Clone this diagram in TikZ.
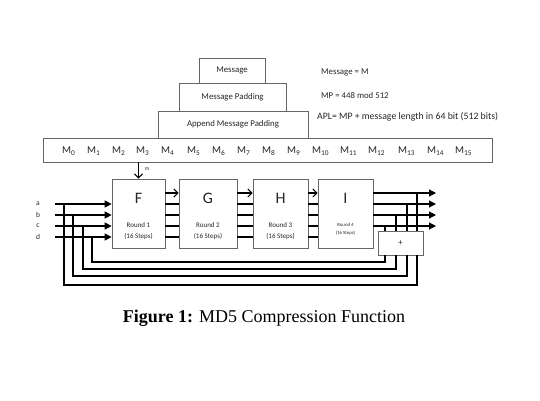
\documentclass[tikz,border=0pt]{standalone}
\usepackage{fontspec}
\setmainfont{Liberation Serif}
\newfontfamily\carlito{Carlito}
\usetikzlibrary{arrows.meta}

\begin{document}
\begin{tikzpicture}[x=1pt, y=-1pt,
      every node/.style={font=\carlito\fontsize{8.8}{10}\selectfont, inner sep=0pt, text=black!85},
      block/.style={draw=gray!80!black, line width=0.7pt, fill=white},
      stage/.style={block, minimum height=69pt},
      wire/.style={line width=1.1pt},
      inarrow/.style={wire, -{Triangle[length=7pt,width=7pt]}},
      fwd/.style={wire, -{Straight Barb[length=4pt,width=8pt]}},
      letter/.style={font=\carlito\fontsize{16}{17}\selectfont},
      roundtxt/.style={align=center, font=\carlito\fontsize{7}{11}\selectfont}]

   \useasboundingbox (0,0) rectangle (540,400);

   \node[block, minimum width=66pt, minimum height=25pt] (msg) at (232,70.5) {Message};
   \node[block, minimum width=107pt, minimum height=28pt] (mp) at (232.5,97) {Message Padding};
   \node[block, minimum width=150pt, minimum height=27pt] (apl) at (233,124.5) {Append Message Padding};
   \node[anchor=west] (msgeq) at (321,72) {Message = M};
   \node[anchor=west] (mpeq) at (321,95) {MP = 448 mod 512};
   \node[anchor=west, font=\carlito\fontsize{9.8}{10}\selectfont] (apleq) at (317,117) {APL= MP + message length in 64 bit (512 bits)};

   \node[block, minimum width=449pt, minimum height=24pt] (mbox) at (267.5,150) {};
   \foreach \i/\x in {0/62,1/87,2/112,3/136,4/161,5/187,6/212,7/237,8/262,9/287,
                      10/312,11/340,12/368,13/398,14/427,15/455}
      \node[anchor=west, font=\carlito\fontsize{10.5}{11}\selectfont] (m\i) at (\x,151) {M\textsubscript{\i}};

   \foreach \n/\x/\w in {F/138.5/53, G/208/58, H/280.5/55, I/345.5/55} {
      \node[stage, minimum width=\w pt] (\n) at (\x,213.5) {};
      \node[letter] (\n l) at (\x,198) {\n};
   }
   \node[roundtxt] (Fr) at (138.5,231) {Round 1\\(16 Steps)};
   \node[roundtxt] (Gr) at (208,231) {Round 2\\(16 Steps)};
   \node[roundtxt] (Hr) at (280.5,231) {Round 3\\(16 Steps)};
   \node[roundtxt, font=\carlito\fontsize{4.8}{8}\selectfont] (Ir) at (345.5,229) {Round 4\\(16 Steps)};

   \draw[wire, -{Straight Barb[length=4pt,width=8pt]}] (mbox.south -| F.north) -- (F.north);
   \node[font=\carlito\fontsize{5.5}{6}\selectfont] (mlab) at (147,169) {m};

   \node[block, minimum width=45pt, minimum height=24pt] (plus) at (400.5,243) {+};

   \coordinate (inx) at (55,0);
   \coordinate (outx) at (436,0);
   \foreach \k/\yy in {0/193,1/204,2/215,3/226,4/237}
      \coordinate (y\k) at (0,\yy);

   \foreach \s/\t in {F/G,G/H,H/I} {
      \draw[fwd] (\s.east |- y0) -- (\t.west |- y0);
      \foreach \k in {1,...,4}
         \draw[wire] (\s.east |- y\k) -- (\t.west |- y\k);
   }

   \foreach \v/\yy/\xl/\yb/\xr/\yo in {a/204/64/285/417/193, b/215/73/276/407/204,
                                       c/226/83/269/396/215, d/237/92/262/385/226} {
      \node[font=\carlito\fontsize{7.5}{8}\selectfont] (\v) at (38,\yy) {\v};
      \coordinate (tap\v) at (\xl,\yy);
      \coordinate (low\v) at (\xl,\yb);
      \coordinate (out\v) at (\xr,\yo);
      \draw[inarrow] (inx |- \v) -- (F.west |- \v);
      \draw[inarrow] (I.east |- out\v) -- (outx |- out\v);
      \draw[wire] (out\v) -- (plus.north -| out\v);
      \draw[wire] (tap\v) -- (low\v) -| (plus.south -| out\v);
   }

   \node[font=\fontsize{18}{20}\selectfont, text=black] (cap) at (264,318)
      {\textbf{Figure 1:} MD5 Compression Function};
\end{tikzpicture}
\end{document}
